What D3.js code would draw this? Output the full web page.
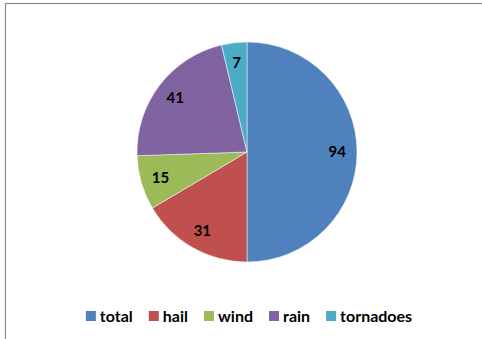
<!DOCTYPE html>
<html>
<head>
<meta charset="utf-8">
<script src="https://cdn.jsdelivr.net/npm/d3@7"></script>
<style>
  body { margin: 0; background: #fff; }
  text { font-family: Lato, "Open Sans", sans-serif; font-weight: bold; }
</style>
</head>
<body>
<svg id="chart" width="482" height="339"></svg>
<script>
const categories = ['total', 'hail', 'wind', 'rain', 'tornadoes'];
const values = [94, 31, 15, 41, 7];
const colors = ['#4F81BD', '#C0504D', '#9BBB59', '#8064A2', '#4BACC6'];

const svg = d3.select('#chart');
const cx = 247, cy = 152, radius = 110;

// chart frame (only top and left edges show in the window)
svg.append('rect')
    .attr('x', 5.5)
    .attr('y', 3.5)
    .attr('width', 500)
    .attr('height', 360)
    .attr('fill', 'none')
    .attr('stroke', '#8c8c8c')
    .attr('stroke-width', 1.2);

const data = categories.map((c, i) => ({ name: c, value: values[i] }));

const pie = d3.pie()
    .sort(null)
    .value(d => d.value);

const arc = d3.arc()
    .innerRadius(0)
    .outerRadius(radius);

const labelArc = d3.arc()
    .innerRadius(radius * 0.82)
    .outerRadius(radius * 0.82);

const color = d3.scaleOrdinal()
    .domain(categories)
    .range(colors);

const g = svg.append('g')
    .attr('transform', 'translate(' + cx + ',' + cy + ')');

const arcs = pie(data);

g.selectAll('path')
    .data(arcs)
    .enter()
    .append('path')
    .attr('d', arc)
    .attr('fill', d => color(d.data.name))
    .attr('stroke', '#ffffff')
    .attr('stroke-width', 0.5);

g.selectAll('text.lbl')
    .data(arcs)
    .enter()
    .append('text')
    .attr('class', 'lbl')
    .attr('transform', d => 'translate(' + labelArc.centroid(d) + ')')
    .attr('text-anchor', 'middle')
    .attr('dy', '0.35em')
    .attr('font-size', 15)
    .attr('fill', '#000')
    .text(d => d.data.value);

// legend, centred under the pie
const legend = svg.append('g');
let lx = 0;
categories.forEach((c, i) => {
    const item = legend.append('g').attr('transform', 'translate(' + lx + ',0)');
    item.append('rect')
        .attr('x', 0)
        .attr('y', -5)
        .attr('width', 10)
        .attr('height', 10)
        .attr('fill', color(c));
    const t = item.append('text')
        .attr('x', 14)
        .attr('dy', '0.35em')
        .attr('font-size', 16)
        .attr('fill', '#000')
        .text(c);
    lx += 14 + t.node().getComputedTextLength() + 16;
});
const legendWidth = lx - 16;
legend.attr('transform', 'translate(' + (249 - legendWidth / 2) + ',316)');
</script>
</body>
</html>
